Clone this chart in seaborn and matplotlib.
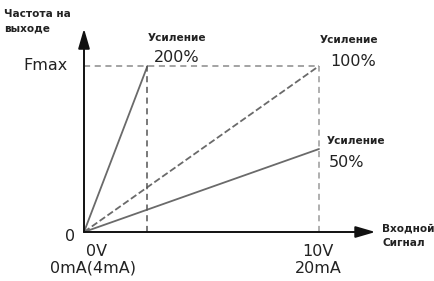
import matplotlib
matplotlib.use("Agg")
import matplotlib.pyplot as plt
import seaborn as sns
import pandas as pd

# Data (x in volts, y as fraction of Fmax)
gains = ["200%", "100%", "50%"]
x_end = [2.7, 10.0, 10.0]
y_end = [1.0, 1.0, 0.5]
line_styles = ["-", "--", "-"]

sns.set_style("white")
plt.rcParams['font.family'] = ['DejaVu Sans']

fig = plt.figure(figsize=(4.35, 2.81), dpi=100)
ax = fig.add_axes([0, 0, 1, 1])
ax.set_xlim(-84 / 23.5, (435 - 84) / 23.5)
ax.set_ylim(-(281 - 232) / 166, 232 / 166)
ax.axis("off")

rows = []
for g, xe, ye in zip(gains, x_end, y_end):
    rows.append({"gain": g, "x": 0.0, "y": 0.0})
    rows.append({"gain": g, "x": xe, "y": ye})
df = pd.DataFrame(rows)

line_color = "#6a6a6a"
for g, ls in zip(gains, line_styles):
    sns.lineplot(data=df[df.gain == g], x="x", y="y", ax=ax, color=line_color,
                 linestyle=ls, linewidth=1.3, legend=False,
                 dashes=(5, 3) if ls == "--" else "")

# reference dashed lines
ax.plot([0, 10], [1, 1], linestyle=(0, (4, 3)), color="#8a8a8a", linewidth=1.1)
ax.plot([x_end[0], x_end[0]], [0, 1], linestyle=(0, (4, 3)), color="#555555", linewidth=1.1)
ax.plot([10, 10], [0, 1], linestyle=(0, (4, 3)), color="#9a9a9a", linewidth=1.1)

# axes arrows
ax.annotate("", xy=(0, 1.225), xytext=(0, 0),
            arrowprops=dict(arrowstyle="-|>,head_length=1.2,head_width=0.35",
                            color="#111111", lw=1.4, shrinkA=0, shrinkB=0))
ax.annotate("", xy=(12.4, 0), xytext=(0, 0),
            arrowprops=dict(arrowstyle="-|>,head_length=1.2,head_width=0.35",
                            color="#111111", lw=1.4, shrinkA=0, shrinkB=0))

txt = "#222222"
big = dict(fontsize=11.5, color=txt)
bold_kw = dict(fontsize=7.6, fontweight="bold", color=txt)
ax.text(-3.4, 1.27, "Частота на\nвыходе", ha="left", va="center", linespacing=1.5, **bold_kw)
ax.text(-0.68, 1.0, "Fmax", ha="right", va="center", **big)
ax.text(-0.38, -0.03, "0", ha="right", va="center", **big)

ax.text(3.95, 1.17, "Усиление", ha="center", va="center", **bold_kw)
ax.text(3.95, 1.05, "200%", ha="center", va="center", **big)
ax.text(11.3, 1.155, "Усиление", ha="center", va="center", **bold_kw)
ax.text(11.45, 1.025, "100%", ha="center", va="center", **big)
ax.text(10.34, 0.548, "Усиление", ha="left", va="center", **bold_kw)
ax.text(10.43, 0.416, "50%", ha="left", va="center", **big)

ax.text(0.085, -0.12, "0V", ha="left", va="center", **big)
ax.text(-1.45, -0.217, "0mA(4mA)", ha="left", va="center", **big)
ax.text(9.95, -0.12, "10V", ha="center", va="center", **big)
ax.text(9.95, -0.217, "20mA", ha="center", va="center", **big)

ax.text(12.7, -0.024, "Входной\nСигнал", ha="left", va="center", linespacing=1.5, **bold_kw)

fig.savefig("out.png", dpi=100)
